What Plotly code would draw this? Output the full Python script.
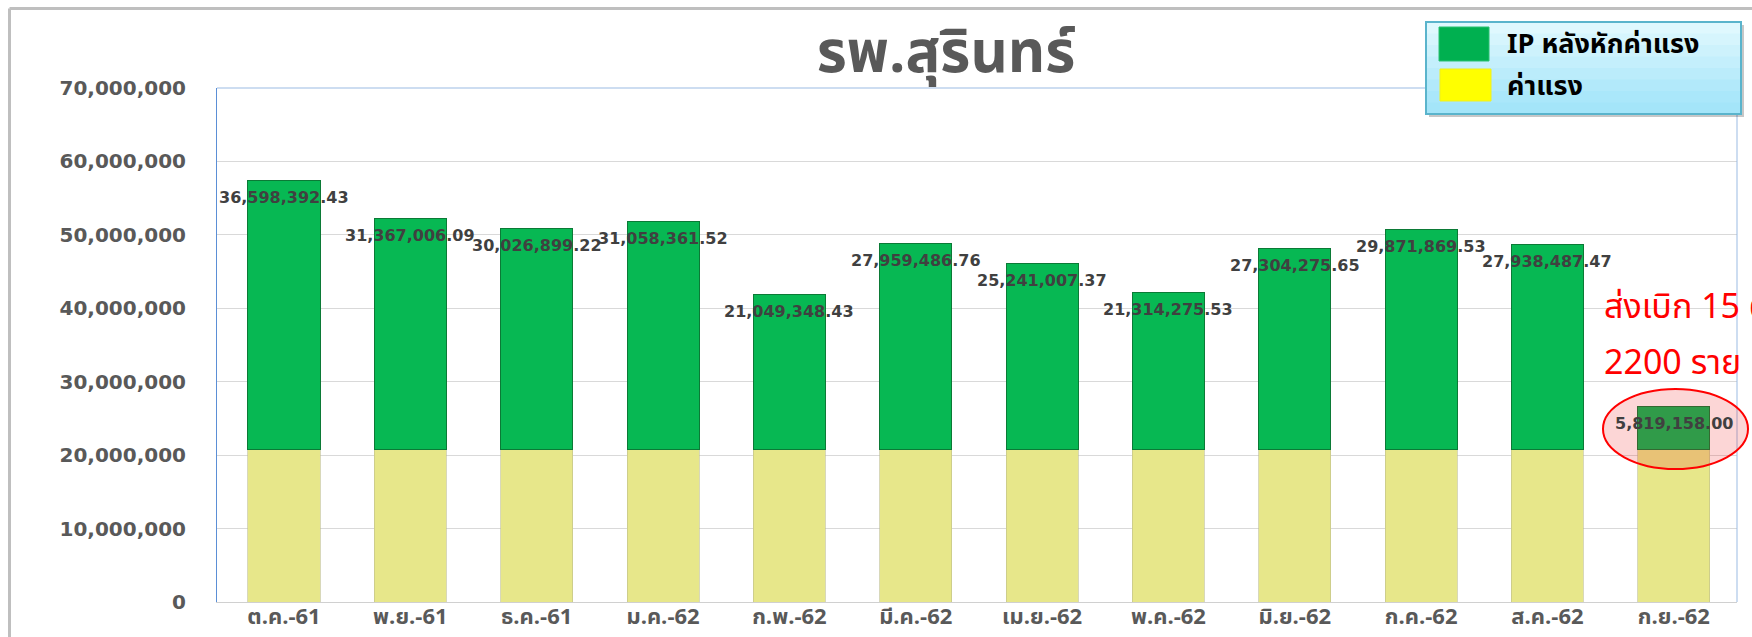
import plotly.graph_objects as go

# data
months = ['ต.ค.-61', 'พ.ย.-61', 'ธ.ค.-61', 'ม.ค.-62', 'ก.พ.-62', 'มี.ค.-62',
          'เม.ย.-62', 'พ.ค.-62', 'มิ.ย.-62', 'ก.ค.-62', 'ส.ค.-62', 'ก.ย.-62']
ip_net = [36598392.43, 31367006.09, 30026899.22, 31058361.52, 21049348.43, 27959486.76,
          25241007.37, 21314275.53, 27304275.65, 29871869.53, 27938487.47, 5819158.00]
wage = [20800000, 20800000, 20800000, 20800000, 20800000, 20800000,
        20800000, 20800000, 20800000, 20800000, 20800000, 20800000]
y_ticks = [0, 10000000, 20000000, 30000000, 40000000, 50000000, 60000000, 70000000]

title_text = 'รพ.สุรินทร์'
legend_names = ['IP หลังหักค่าแรง', 'ค่าแรง']
note_lines = ['ส่งเบิก 15 ต.ค.', '2200 ราย']

W, H = 1752, 637
L, R, T, B = 217, 1737, 88, 602   # plot area in pixels
THAI = 'Noto Sans Thai, Tahoma, Loma, Garuda, DejaVu Sans, sans-serif'
GREY = '#595959'


def px(x):
    return (x - L) / (R - L)


def py(y):
    return (B - y) / (B - T)


fig = go.Figure()

fig.add_trace(go.Bar(
    x=months, y=wage, name=legend_names[1],
    marker=dict(color='#E7E78A', line=dict(color='rgba(190,190,140,0.6)', width=1)),
    showlegend=False, hoverinfo='skip'))
fig.add_trace(go.Bar(
    x=months, y=ip_net, name=legend_names[0],
    marker=dict(color='#07B853', line=dict(color='#0B7A36', width=1)),
    showlegend=False, hoverinfo='skip'))

# value labels sitting on the top edge of each stack
for m, g, w in zip(months, ip_net, wage):
    fig.add_annotation(x=m, y=g + w, text=f'<b>{g:,.2f}</b>', showarrow=False,
                       yshift=-17, font=dict(family='DejaVu Sans', size=16, color='#404040'))

shapes = []
# outer grey frame (cut by the picture edge)
shapes.append(dict(type='line', xref='paper', yref='paper', x0=px(9.5), x1=px(W + 20),
                   y0=py(8.5), y1=py(8.5), line=dict(color='#BFBFBF', width=3), layer='below'))
shapes.append(dict(type='line', xref='paper', yref='paper', x0=px(9.5), x1=px(9.5),
                   y0=py(8.5), y1=py(H + 20), line=dict(color='#BFBFBF', width=3), layer='below'))
# plot-area top and right border
shapes.append(dict(type='path', xref='paper', yref='paper',
                   path='M 0,1 L 1,1 L 1,0', line=dict(color='#9BBBE3', width=1)))

# red ellipse around the last bar
shapes.append(dict(type='circle', xref='paper', yref='paper',
                   x0=px(1603), x1=px(1748), y0=py(469), y1=py(389),
                   fillcolor='rgba(240,30,30,0.18)', line=dict(color='#FF0000', width=2),
                   layer='above'))

# hand-drawn legend box
lx0, lx1, ly0, ly1 = 1426, 1741, 22, 114
shapes.append(dict(type='rect', xref='paper', yref='paper',
                   x0=px(lx0 + 3), x1=px(lx1 + 3), y0=py(ly0 + 3), y1=py(ly1 + 3),
                   fillcolor='rgba(0,0,0,0.22)', line=dict(width=0), layer='above'))
bands = ['#DFF8FE', '#D6F5FD', '#CDF2FC', '#C4EFFC', '#BBECFB', '#B2E9FA', '#AAE7FA', '#A4E5F9']
bh = (ly1 - ly0) / len(bands)
for i, c in enumerate(bands):
    shapes.append(dict(type='rect', xref='paper', yref='paper',
                       x0=px(lx0), x1=px(lx1), y0=py(ly0 + i * bh), y1=py(ly0 + (i + 1) * bh + 0.5),
                       fillcolor=c, line=dict(width=0), layer='above'))
shapes.append(dict(type='rect', xref='paper', yref='paper',
                   x0=px(lx0), x1=px(lx1), y0=py(ly0), y1=py(ly1),
                   line=dict(color='#5AB4CC', width=2), layer='above'))
shapes.append(dict(type='rect', xref='paper', yref='paper',
                   x0=px(1439), x1=px(1489), y0=py(27), y1=py(61),
                   fillcolor='#00B050', line=dict(color='#2AC070', width=1), layer='above'))
shapes.append(dict(type='rect', xref='paper', yref='paper',
                   x0=px(1440), x1=px(1491), y0=py(69), y1=py(101),
                   fillcolor='#FFFF00', line=dict(color='#F0F020', width=1), layer='above'))

for name, yc in zip(legend_names, [44, 86]):
    fig.add_annotation(xref='paper', yref='paper', x=px(1505), y=py(yc), text=f'<b>{name}</b>',
                       showarrow=False, xanchor='left', yanchor='middle',
                       font=dict(family=THAI, size=27, color='#000000'))

# red note at the right
for line, yc in zip(note_lines, [307, 363]):
    fig.add_annotation(xref='paper', yref='paper', x=px(1602), y=py(yc), text=line,
                       showarrow=False, xanchor='left', yanchor='middle',
                       font=dict(family=THAI, size=34, color='#FF0000'))

fig.update_layout(
    width=W, height=H,
    barmode='stack', bargap=0.43,
    paper_bgcolor='white', plot_bgcolor='white',
    margin=dict(l=L, r=W - R, t=T, b=H - B, autoexpand=False),
    title=dict(text=f'<b>{title_text}</b>', x=px(946), xref='paper', xanchor='center',
               y=1 - 52 / H, yanchor='middle',
               font=dict(family=THAI, size=58, color=GREY)),
    shapes=shapes,
    showlegend=False,
)
fig.update_xaxes(showline=True, linecolor='#D0D0D0', linewidth=1, ticks='', automargin=False,
                 tickfont=dict(family=THAI, size=22, color=GREY), ticklabelstandoff=-5)
fig.update_yaxes(range=[0, 70000000], tickvals=y_ticks, tickformat=',d', automargin=False,
                 showline=True, linecolor='#5B8FD6', linewidth=1,
                 gridcolor='#D9D9D9', gridwidth=1, zeroline=False,
                 tickfont=dict(family='DejaVu Sans', size=20, color=GREY), ticks='',
                 ticklabelstandoff=26)
# bold tick labels
fig.update_xaxes(tickvals=months, ticktext=[f'<b>{m}</b>' for m in months])
fig.update_yaxes(ticktext=[f'<b>{v:,d}</b>' for v in y_ticks])

fig.write_html('out.html', config={'displayModeBar': False},
               post_script="document.body.style.margin='0';")
